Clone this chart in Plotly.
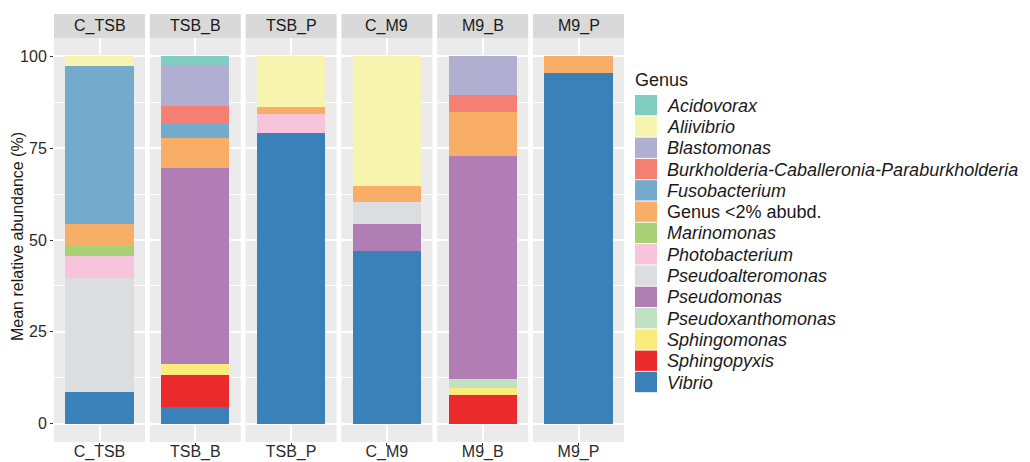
import plotly.graph_objects as go
from plotly.subplots import make_subplots

samples = ["C_TSB", "TSB_B", "TSB_P", "C_M9", "M9_B", "M9_P"]

genera = ["Acidovorax", "Aliivibrio", "Blastomonas",
          "Burkholderia-Caballeronia-Paraburkholderia", "Fusobacterium",
          "Genus <2% abubd.", "Marinomonas", "Photobacterium",
          "Pseudoalteromonas", "Pseudomonas", "Pseudoxanthomonas",
          "Sphingomonas", "Sphingopyxis", "Vibrio"]

colors = ["#80CEC1", "#F7F4B0", "#B1AFD1", "#F47F72", "#74ABCD",
          "#F8AE67", "#A8D176", "#F8C4DB", "#DCDDDF", "#B07EB4",
          "#C1E2C2", "#FBEB7A", "#EB2B2B", "#3A80B9"]

acidovorax = [0, 2.6, 0, 0, 0, 0]
aliivibrio = [2.7, 0, 13.9, 35.4, 0, 0]
blastomonas = [0, 11.0, 0, 0, 10.6, 0]
burkholderia = [0, 4.7, 0, 0, 4.6, 0]
fusobacterium = [42.9, 3.8, 0, 0, 0, 0]
genus_lt2 = [6.1, 8.3, 1.9, 4.3, 11.8, 4.5]
marinomonas = [2.7, 0, 0, 0, 0, 0]
photobacterium = [5.9, 0, 5.2, 0, 0, 0]
pseudoalteromonas = [31.2, 0, 0, 6.0, 0, 0]
pseudomonas = [0, 53.4, 0, 7.4, 60.9, 0]
pseudoxanthomonas = [0, 0, 0, 0, 2.4, 0]
sphingomonas = [0, 3.0, 0, 0, 2.0, 0]
sphingopyxis = [0, 8.8, 0, 0, 7.7, 0]
vibrio = [8.5, 4.4, 79.0, 46.9, 0, 95.5]

values = [acidovorax, aliivibrio, blastomonas, burkholderia, fusobacterium,
          genus_lt2, marinomonas, photobacterium, pseudoalteromonas,
          pseudomonas, pseudoxanthomonas, sphingomonas, sphingopyxis, vibrio]

italic = [g != "Genus <2% abubd." for g in genera]

W, H = 1030, 462
ML, MR, MT, MB = 54, 406, 38, 20
PW = W - ML - MR
PH = H - MT - MB
GAP = 4.8

fig = make_subplots(rows=1, cols=6, shared_yaxes=True,
                    horizontal_spacing=GAP / PW)

FONT = "Liberation Sans, Arial, sans-serif"

for i, s in enumerate(samples):
    # plotly stacks in trace order: bottom first -> reverse legend order
    for g, c, v in reversed(list(zip(genera, colors, values))):
        if v[i] <= 0:
            continue
        fig.add_trace(go.Bar(x=[s], y=[v[i]], name=g, marker_color=c,
                             marker_line_width=0, width=0.9,
                             showlegend=False, hoverinfo="name+y"),
                      row=1, col=i + 1)

fig.update_layout(
    width=W, height=H,
    margin=dict(l=ML, r=MR, t=MT, b=MB, pad=0, autoexpand=False),
    barmode="stack",
    plot_bgcolor="#EBEBEB",
    paper_bgcolor="white",
    font=dict(family=FONT, color="#1A1A1A"),
    showlegend=False,
)

fig.update_xaxes(type="category", range=[-0.6, 0.6], showgrid=True,
                 gridcolor="white", gridwidth=1.6, zeroline=False,
                 showline=False, ticks="outside", ticklen=3, tickwidth=1,
                 tickcolor="#333333", automargin=False,
                 ticklabelstandoff=-8,
                 tickfont=dict(size=16, color="#2B2B2B", family=FONT))
fig.update_yaxes(range=[-5, 105], tickvals=[0, 25, 50, 75, 100],
                 showgrid=True, gridcolor="white", gridwidth=1.6,
                 zeroline=False, showline=False, automargin=False,
                 minor=dict(tickvals=[12.5, 37.5, 62.5, 87.5], showgrid=True,
                            gridcolor="white", gridwidth=0.8, ticks=""),
                 tickfont=dict(size=16, color="#2B2B2B", family=FONT))
fig.update_yaxes(ticks="outside", ticklen=3, tickwidth=1, tickcolor="#333333",
                 row=1, col=1)

# facet strips
strip_h = 24 / PH
for i, s in enumerate(samples):
    xr = "x domain" if i == 0 else f"x{i + 1} domain"
    fig.add_shape(type="rect", xref=xr, yref="paper", x0=0, x1=1,
                  y0=1, y1=1 + strip_h, fillcolor="#D9D9D9", line_width=0,
                  layer="below")
    fig.add_annotation(xref=xr, yref="paper", x=0.5, y=1 + strip_h / 2,
                       text=s, showarrow=False, xanchor="center",
                       yanchor="middle",
                       font=dict(size=16, color="#1A1A1A", family=FONT))

# y-axis title
fig.add_annotation(xref="paper", yref="paper", x=(17 - ML) / PW,
                   y=(H - MB - 237) / PH, text="Mean relative abundance (%)",
                   textangle=-90, showarrow=False, xanchor="center",
                   yanchor="middle",
                   font=dict(size=16, color="#1A1A1A", family=FONT))

# legend (drawn manually to match ggplot key size)
def px_x(px):
    return (px - ML) / PW

def px_y(py):
    return (H - MB - py) / PH

fig.add_annotation(xref="paper", yref="paper", x=px_x(633), y=px_y(80),
                   text="Genus", showarrow=False, xanchor="left",
                   yanchor="middle",
                   font=dict(size=18, color="#1A1A1A", family=FONT))
key_top0, key_step, key_w = 95.0, 21.3, 22
for k, (g, c, it) in enumerate(zip(genera, colors, italic)):
    top = key_top0 + k * key_step
    fig.add_shape(type="rect", xref="paper", yref="paper",
                  x0=px_x(635), x1=px_x(635 + key_w),
                  y0=px_y(top + key_step - 1), y1=px_y(top),
                  fillcolor=c, line_width=0)
    fig.add_annotation(xref="paper", yref="paper", x=px_x(665),
                       y=px_y(top + key_step / 2),
                       text=f"<i>{g}</i>" if it else g, showarrow=False,
                       xanchor="left", yanchor="middle",
                       font=dict(size=18, color="#1A1A1A", family=FONT))

fig.write_html("out.html")
